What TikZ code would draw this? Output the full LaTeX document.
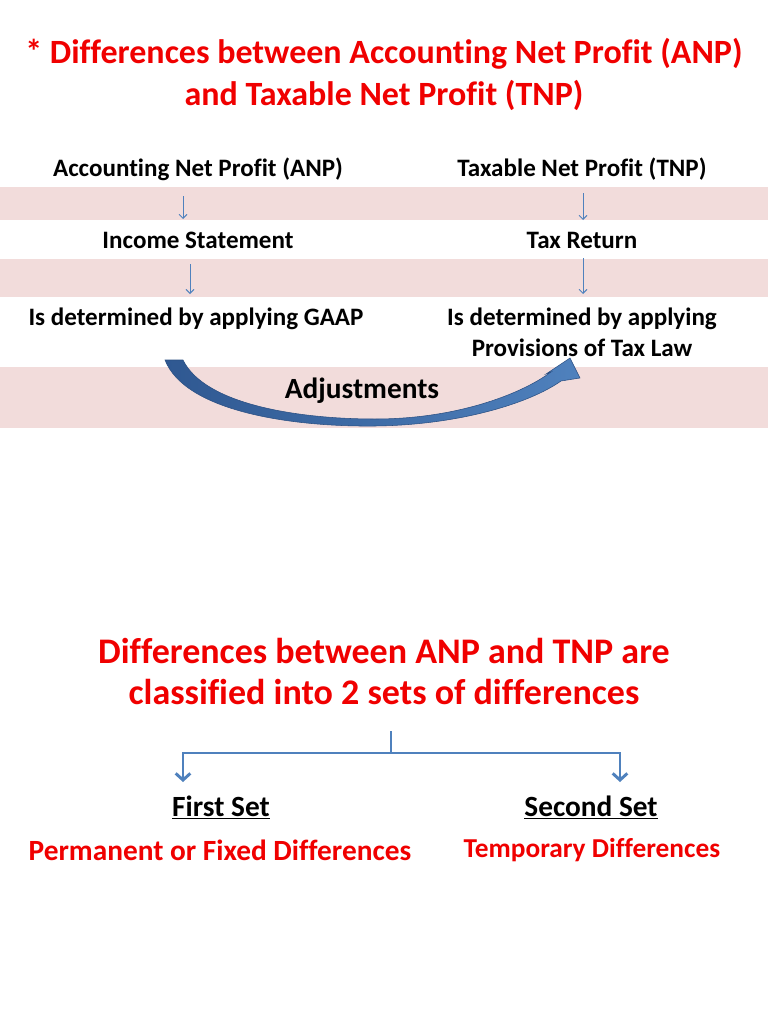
\documentclass[tikz,border=0pt]{standalone}
\usepackage{fontspec}
\setmainfont[Ligatures={NoCommon}]{Carlito}
\usetikzlibrary{arrows.meta}
\definecolor{tred}{RGB}{240,0,0}
\definecolor{band}{RGB}{242,220,219}
\definecolor{lblue}{RGB}{79,129,189}
\definecolor{dblue}{RGB}{47,88,145}
\begin{document}
\begin{tikzpicture}[x=0.75pt,y=-0.75pt,
  title/.style={anchor=base,text=tred,font=\bfseries\fontsize{25.5}{30}\selectfont,inner sep=0pt},
  body/.style={anchor=base,text=black,font=\bfseries\fontsize{18.8}{22}\selectfont,inner sep=0pt},
  big/.style={anchor=base,text=black,font=\bfseries\fontsize{22}{26}\selectfont,inner sep=0pt},
  redsub/.style={anchor=base,text=tred,font=\bfseries\fontsize{22}{26}\selectfont,inner sep=0pt},
  thin/.style={draw=lblue,line width=0.7pt,-{Straight Barb[length=3pt,width=6pt]}},
  tree/.style={draw=lblue,line width=2.2pt},
  treearrow/.style={tree,-{Straight Barb[length=5pt,width=11pt,line width=2.2pt]}}]
\useasboundingbox (0,0) rectangle (768,1024);
\fill[white] (0,0) rectangle (768,1024);
% bands
\fill[band] (0,187) rectangle (768,220);
\fill[band] (0,259) rectangle (768,297);
\fill[band] (0,367) rectangle (768,428);
% title
\node[title] (t1) at (384,64) {* Differences between Accounting Net Profit (ANP)};
\node[title] (t2) at (384,105) {and Taxable Net Profit (TNP)};
% left column
\node[body] (anp) at (198,176) {Accounting Net Profit (ANP)};
\node[body] (inc) at (198,248) {Income Statement};
\node[body] (gaap) at (196,325) {Is determined by applying GAAP};
% right column
\node[body] (tnp) at (582,176) {Taxable Net Profit (TNP)};
\node[body] (tax) at (582,248) {Tax Return};
\node[body] (law1) at (582,325) {Is determined by applying};
\node[body] (law2) at (582,356) {Provisions of Tax Law};
% thin arrows
\coordinate (a1s) at (183,196); \coordinate (a1e) at (183,219);
\coordinate (a2s) at (190,264); \coordinate (a2e) at (190,294);
\coordinate (b1s) at (583,193); \coordinate (b1e) at (583,220);
\coordinate (b2s) at (583,258); \coordinate (b2e) at (583,294);
\draw[thin] (a1s) -- (a1e);
\draw[thin] (a2s) -- (a2e);
\draw[thin] (b1s) -- (b1e);
\draw[thin] (b2s) -- (b2e);
% curved arrow
\shade[left color=dblue,right color=lblue,draw=dblue!90!black,line width=0.4pt]
  (165,360) .. controls (185,411) and (290,427) .. (375,426)
  .. controls (460,425) and (530,403) .. (561,381)
  -- (580,378) -- (570,358) -- (546,374) -- (551,372)
  .. controls (520,395) and (455,419) .. (375,419)
  .. controls (300,419) and (205,405) .. (183,360) -- cycle;
\node[big] (adj) at (362,398) {Adjustments};
% second part
\node[title,font=\bfseries\fontsize{27}{30}\selectfont] (s1) at (384,663) {Differences between ANP and TNP are};
\node[title,font=\bfseries\fontsize{27}{30}\selectfont] (s2) at (384,704) {classified into 2 sets of differences};
\coordinate (top) at (391,731);
\coordinate (mid) at (391,753);
\coordinate (la) at (183,782);
\coordinate (ra) at (620,782);
\draw[tree] (top) -- (mid);
\draw[treearrow] (mid) -| (la);
\draw[treearrow] (mid) -| (ra);
\node[big] (fs) at (221,816) {\underline{First Set}};
\node[big] (ss) at (591,816) {\underline{Second Set}};
\node[redsub] (perm) at (220,860) {Permanent or Fixed Differences};
\node[redsub,font=\bfseries\fontsize{20.5}{24}\selectfont] (temp) at (592,857) {Temporary Differences};
\end{tikzpicture}
\end{document}
